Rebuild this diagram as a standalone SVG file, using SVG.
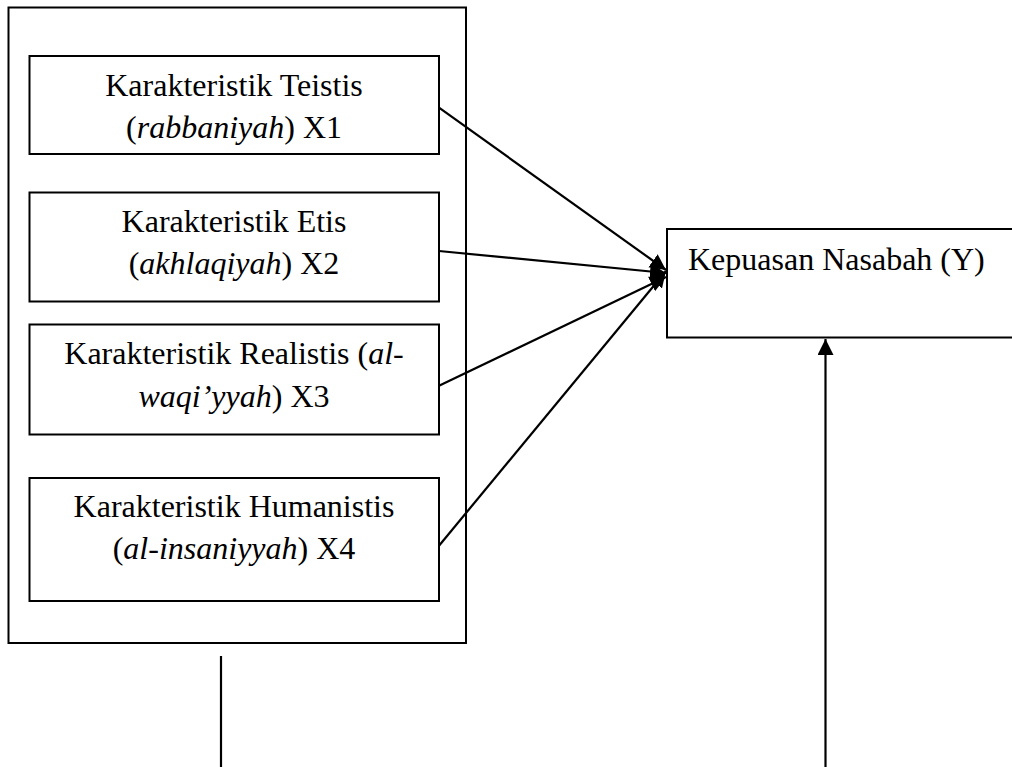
<svg xmlns="http://www.w3.org/2000/svg" width="1012" height="767" viewBox="0 0 1012 767">
<style>
.box{fill:#fff;stroke:#000;stroke-width:2}
.t{font-family:"Liberation Serif","Times New Roman",serif;font-size:32px;fill:#000}
.c{text-anchor:middle}
.ln{stroke:#000;stroke-width:2.2;fill:none}
</style>
<defs>
<marker id="ah" markerUnits="userSpaceOnUse" markerWidth="18" markerHeight="18" refX="16" refY="8" orient="auto" viewBox="0 0 18 18">
<path d="M0,0 L16,8 L0,16 z" fill="#000"/>
</marker>
</defs>
<rect width="1012" height="767" fill="#fff"/>
<g id="group-x">
<rect class="box" x="8.5" y="7.5" width="457.5" height="635.5"/>
</g>
<g id="x1">
<rect class="box" x="29.5" y="56" width="409.5" height="98"/>
<text class="t c" x="234" y="96">Karakteristik Teistis</text>
<text class="t c" x="234" y="138">(<tspan font-style="italic">rabbaniyah</tspan>) X1</text>
</g>
<g id="x2">
<rect class="box" x="29.5" y="192.5" width="409.5" height="109"/>
<text class="t c" x="234" y="231.5">Karakteristik Etis</text>
<text class="t c" x="234" y="274">(<tspan font-style="italic">akhlaqiyah</tspan>) X2</text>
</g>
<g id="x3">
<rect class="box" x="29.5" y="324.5" width="409.5" height="110"/>
<text class="t c" x="234" y="364">Karakteristik Realistis (<tspan font-style="italic">al-</tspan></text>
<text class="t c" x="234" y="406.5"><tspan font-style="italic">waqi’yyah</tspan>) X3</text>
</g>
<g id="x4">
<rect class="box" x="29.5" y="478" width="409.5" height="123"/>
<text class="t c" x="234" y="517">Karakteristik Humanistis</text>
<text class="t c" x="234" y="559">(<tspan font-style="italic">al-insaniyyah</tspan>) X4</text>
</g>
<g id="y">
<rect class="box" x="667" y="229" width="360" height="108.5"/>
<text class="t" x="688" y="270">Kepuasan Nasabah (Y)</text>
</g>
<g id="connectors">
<line class="ln" x1="439" y1="107.7" x2="666" y2="270" marker-end="url(#ah)"/>
<line class="ln" x1="439" y1="251" x2="666" y2="273" marker-end="url(#ah)"/>
<line class="ln" x1="439" y1="385.7" x2="666" y2="277" marker-end="url(#ah)"/>
<line class="ln" x1="439" y1="545.7" x2="666" y2="271" marker-end="url(#ah)"/>
<line class="ln" x1="221" y1="656" x2="221" y2="767"/>
<line class="ln" x1="825.5" y1="767" x2="825.5" y2="339" marker-end="url(#ah)"/>
</g>
</svg>
